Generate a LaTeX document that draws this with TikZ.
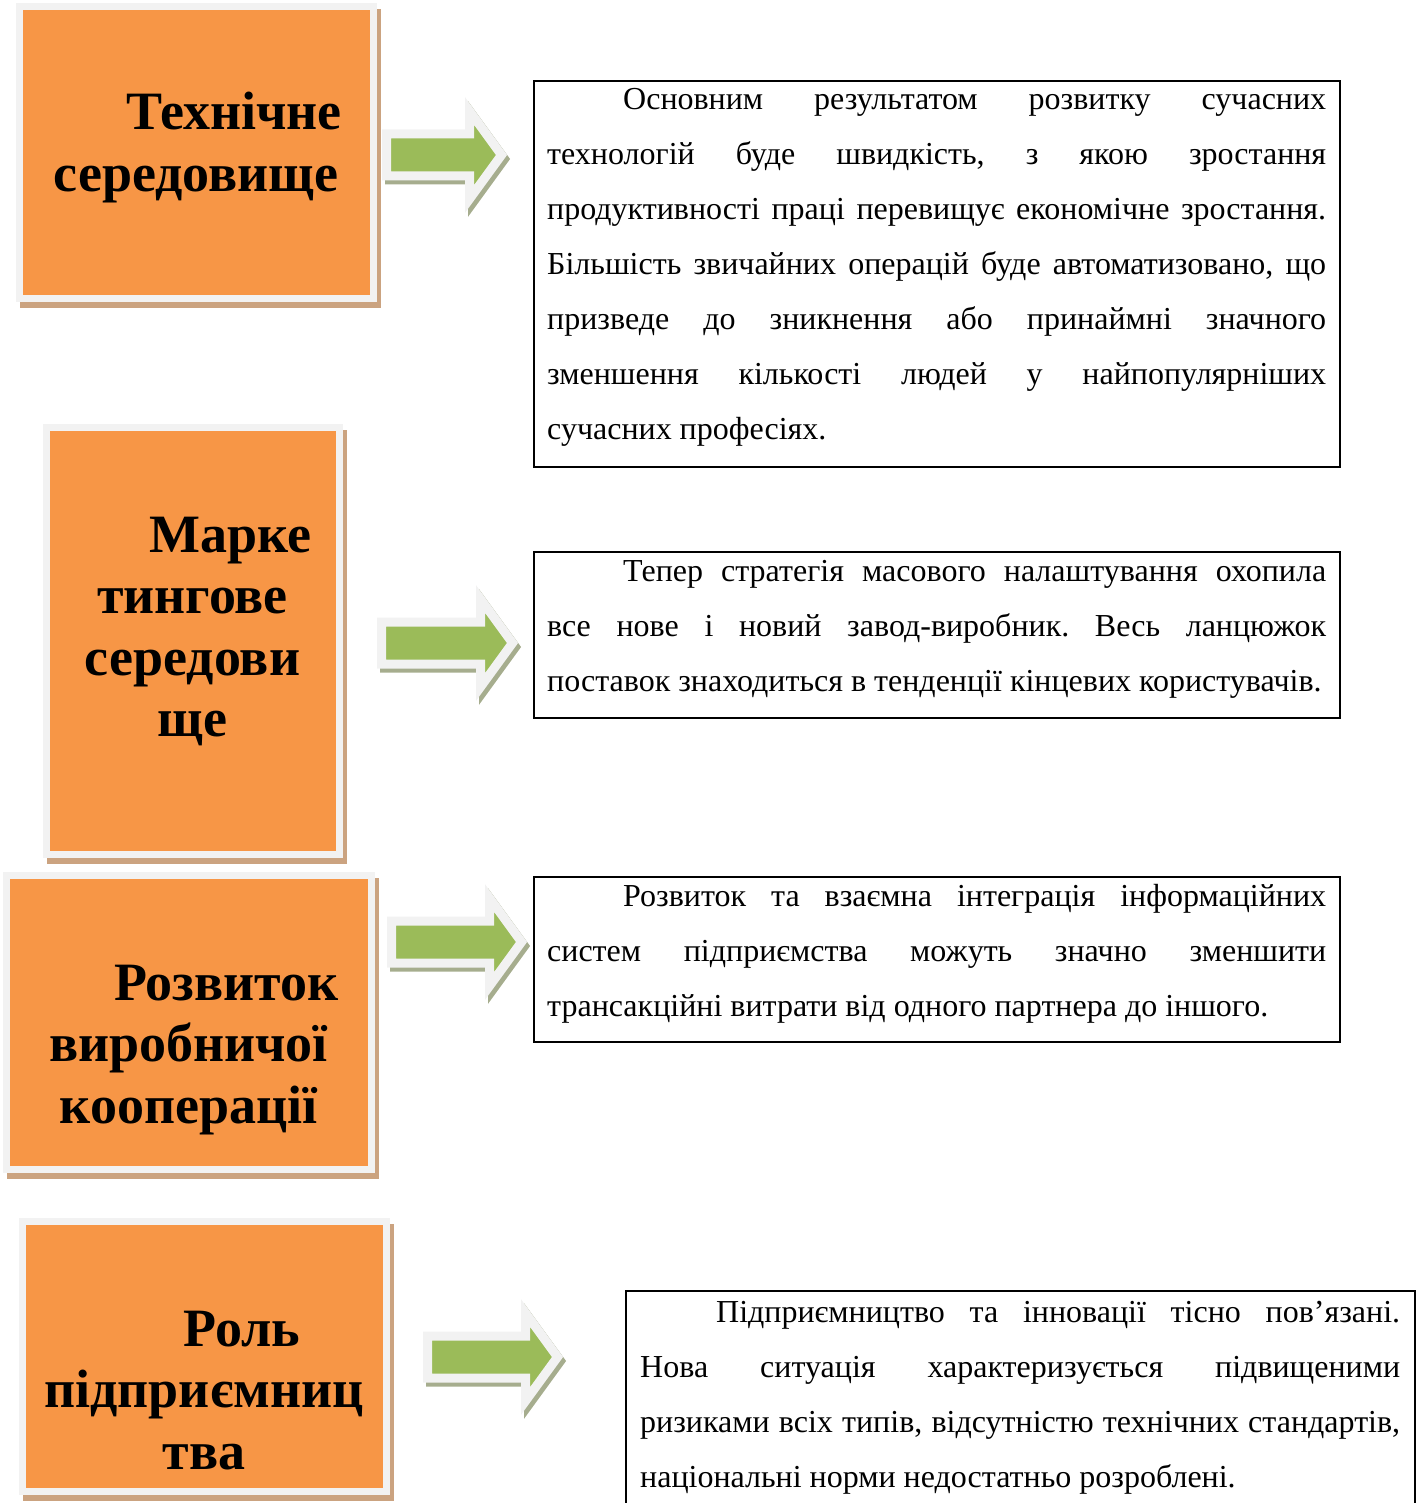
\documentclass[tikz,border=0pt]{standalone}
\usepackage{fontspec}
\setmainfont{Liberation Serif}
\usetikzlibrary{backgrounds}

\definecolor{boxorange}{HTML}{F79646}
\definecolor{rimgrey}{HTML}{F2F2F2}
\definecolor{tanshadow}{RGB}{203,163,128}
\definecolor{arrowgreen}{HTML}{9BBB59}
\definecolor{arrowshadow}{RGB}{166,173,142}

\tikzset{
  orangebox/.style={rectangle, fill=boxorange, draw=rimgrey, line width=7pt,
    inner sep=0pt, outer sep=0pt, anchor=north west},
  textframe/.style={rectangle, draw=black, line width=2pt, inner sep=0pt,
    outer sep=0pt, anchor=north west},
  titletext/.style={anchor=base, inner sep=0pt,
    font=\fontsize{54}{61.5}\selectfont\bfseries},
  bodytext/.style={anchor=base west, inner sep=0pt,
    font=\fontsize{32}{55}\selectfont},
}

% outline of a block arrow: shaft start x, tip x, centre y
\newcommand\arrowpath[3]{(#1,#3-21) -- (#2-32,#3-21) -- (#2-32,#3-44) -- (#2,#3)
  -- (#2-32,#3+44) -- (#2-32,#3+21) -- (#1,#3+21) -- cycle}
\newcommand\greenarrow[3]{%
  \filldraw[arrowshadow, line width=9pt, line join=miter, shift={(3,4)}] \arrowpath{#1}{#2}{#3};
  \filldraw[fill=arrowgreen, draw=rimgrey, line width=9pt, line join=miter] \arrowpath{#1}{#2}{#3};
}

% justified paragraph with a first-line indent
\newcommand\para[2]{\parbox[t]{#1pt}{\frenchspacing\hyphenpenalty=10000\exhyphenpenalty=10000
  \tolerance=9999\hspace*{76pt}#2}}
\newcommand\heading[1]{\parbox[t]{380pt}{\centering #1}}

\begin{document}
\begin{tikzpicture}[x=1pt,y=-1pt]
\useasboundingbox (0,0) rectangle (1421,1503);

% orange topic boxes
\node[orangebox, minimum width=354.5pt, minimum height=292.5pt] (b1) at (19,6.5) {};
\node[orangebox, minimum width=292.5pt, minimum height=427.5pt] (b2) at (46.5,427) {};
\node[orangebox, minimum width=364.5pt, minimum height=293.5pt] (b3) at (6.5,875.5) {};
\node[orangebox, minimum width=364.5pt, minimum height=270pt] (b4) at (22,1221) {};

\begin{scope}[on background layer]
  \foreach \b in {b1,b2,b3,b4}
    \fill[tanshadow] ([shift={(0.5,2.5)}]\b.north west) rectangle ([shift={(7.5,9.5)}]\b.south east);
\end{scope}

\node[titletext] (h1) at (196,130) {\heading{\hspace*{76pt}Технічне\\середовище}};
\node[titletext] (h2) at (192.5,552) {\heading{\hspace*{76pt}Марке\\тингове\\середови\\ще}};
\node[titletext] (h3) at (188.5,1000) {\heading{\hspace*{76pt}Розвиток\\виробничої\\кооперації}};
\node[titletext] (h4) at (204,1346) {\heading{\hspace*{76pt}Роль\\підприємниц\\тва}};

% block arrows
\greenarrow{386.5}{501.5}{155}
\greenarrow{381.5}{512.5}{643}
\greenarrow{391.5}{521.5}{942}
\greenarrow{427.5}{557.5}{1357}

% description frames
\node[textframe, minimum width=806pt, minimum height=386pt] (t1) at (534,81) {};
\node[textframe, minimum width=806pt, minimum height=166pt] (t2) at (534,552) {};
\node[textframe, minimum width=806pt, minimum height=165pt] (t3) at (534,877) {};
\node[textframe, minimum width=789pt, minimum height=230pt] (t4) at (626,1291) {};

\node[bodytext] (p1) at (547,110) {\para{779}{Основним результатом розвитку сучасних \linebreak
технологій буде швидкість, з якою зростання \linebreak
продуктивності праці перевищує економічне зростання. \linebreak
Більшість звичайних операцій буде автоматизовано, що \linebreak
призведе до зникнення або принаймні значного \linebreak
зменшення кількості людей у найпопулярніших \linebreak
сучасних професіях.}};

\node[bodytext] (p2) at (547,581) {\para{779}{Тепер стратегія масового налаштування охопила \linebreak
все нове і новий завод-виробник. Весь ланцюжок \linebreak
поставок знаходиться в тенденції кінцевих користувачів.}};

\node[bodytext] (p3) at (547,906) {\para{779}{Розвиток та взаємна інтеграція інформаційних \linebreak
систем підприємства можуть значно зменшити \linebreak
трансакційні витрати від одного партнера до іншого.}};

\node[bodytext] (p4) at (640,1322) {\para{760}{Підприємництво та інновації тісно пов’язані. \linebreak
Нова ситуація характеризується підвищеними \linebreak
ризиками всіх типів, відсутністю технічних стандартів, \linebreak
національні норми недостатньо розроблені.}};
\end{tikzpicture}
\end{document}
